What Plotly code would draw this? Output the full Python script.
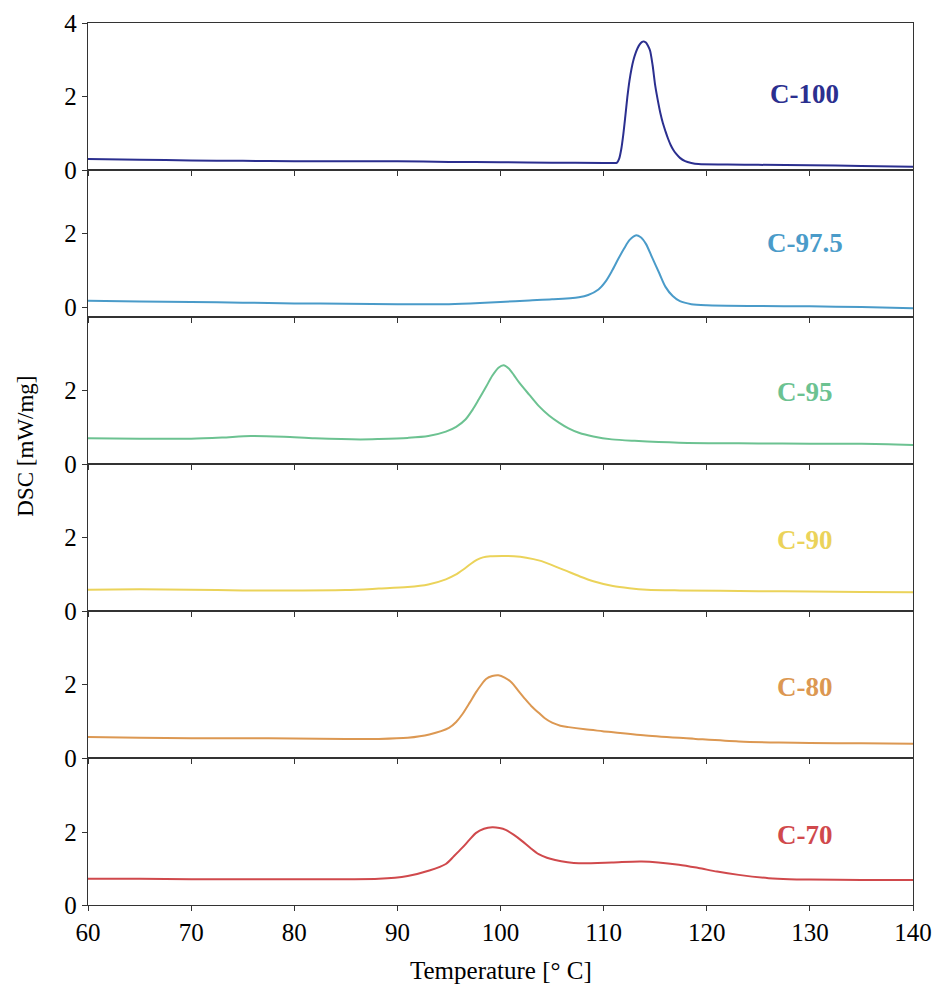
import plotly.graph_objects as go
from plotly.subplots import make_subplots

# DSC curves for each sample (temperature in °C, heat flow in mW/mg)
t_c100 = [60, 65, 70, 75, 80, 85, 90, 95, 100, 105, 110, 111.0, 111.3, 111.5, 111.7, 111.9,
          112.1, 112.3, 112.5, 112.7, 112.9, 113.1, 113.3, 113.5, 113.7, 113.9, 114.1, 114.3,
          114.5, 114.75, 115.0, 115.25, 115.5, 115.75, 116.0, 116.25, 116.5, 116.75, 117.0,
          117.4, 117.9, 118.5, 119.2, 122, 125, 130, 135, 140]
dsc_c100 = [0.30, 0.28, 0.26, 0.25, 0.24, 0.24, 0.24, 0.22, 0.21, 0.20, 0.19, 0.19, 0.20, 0.30,
            0.55, 0.95, 1.45, 1.98, 2.42, 2.75, 3.00, 3.18, 3.32, 3.42, 3.48, 3.50, 3.47, 3.38,
            3.25, 2.85, 2.30, 1.90, 1.55, 1.27, 1.05, 0.85, 0.68, 0.55, 0.45, 0.33, 0.24, 0.19,
            0.16, 0.15, 0.14, 0.13, 0.11, 0.09]

t_c975 = [60, 65, 70, 75, 80, 85, 90, 95, 98, 100, 102.8, 105, 107.6, 108.5, 109.5, 110.2,
          110.8, 111.4, 112.0, 112.5, 113.1, 113.6, 114.1, 114.7, 115.4, 116.0, 116.7, 117.4,
          118.5, 120, 125, 130, 135, 140]
dsc_c975 = [0.17, 0.15, 0.14, 0.12, 0.10, 0.09, 0.08, 0.08, 0.11, 0.14, 0.18, 0.21, 0.27, 0.33,
            0.48, 0.70, 0.98, 1.30, 1.60, 1.82, 1.95, 1.90, 1.72, 1.35, 0.92, 0.55, 0.30, 0.16,
            0.08, 0.05, 0.03, 0.02, 0.0, -0.03]

t_c95 = [60, 65, 70, 73, 75.8, 79, 82, 86.4, 88.2, 91, 93, 94.7, 95.7, 96.6, 97.3, 97.9, 98.6,
         99.2, 99.8, 100.3, 100.8, 101.3, 101.8, 102.8, 103.7, 104.7, 105.7, 106.6, 107.6, 109,
         110.8, 113, 117.3, 125, 130, 135, 140]
dsc_c95 = [0.70, 0.69, 0.69, 0.72, 0.76, 0.74, 0.70, 0.67, 0.68, 0.71, 0.76, 0.88, 1.01, 1.21,
           1.48, 1.76, 2.10, 2.40, 2.62, 2.69, 2.60, 2.42, 2.22, 1.88, 1.58, 1.32, 1.12, 0.97,
           0.85, 0.75, 0.67, 0.63, 0.58, 0.56, 0.55, 0.55, 0.52]

t_c90 = [60, 65, 70, 75, 80, 85, 88.2, 91, 93, 94.7, 95.6, 96.4, 97.1, 97.7, 98.3, 99, 100.2,
         101.3, 102.5, 103.8, 105, 106.4, 107.7, 109, 110.9, 112.5, 114.2, 117.4, 125, 130, 135,
         140]
dsc_c90 = [0.58, 0.59, 0.58, 0.56, 0.56, 0.57, 0.61, 0.65, 0.72, 0.86, 0.98, 1.13, 1.28, 1.39,
           1.46, 1.49, 1.50, 1.49, 1.45, 1.37, 1.25, 1.09, 0.94, 0.81, 0.68, 0.62, 0.58, 0.56,
           0.54, 0.53, 0.52, 0.51]

t_c80 = [60, 65, 70, 75, 80, 85, 88.2, 91, 93.1, 95.0, 95.7, 96.3, 97.0, 97.6, 98.1, 98.6, 99.2,
         99.8, 100.4, 101.1, 101.7, 102.4, 103.0, 103.7, 104.3, 105.0, 105.8, 106.6, 108.2,
         109.9, 114.1, 118.9, 123.1, 127, 130, 135, 140]
dsc_c80 = [0.57, 0.55, 0.54, 0.54, 0.53, 0.52, 0.52, 0.55, 0.64, 0.82, 0.98, 1.19, 1.50, 1.78,
           1.98, 2.15, 2.23, 2.25, 2.19, 2.05, 1.84, 1.60, 1.41, 1.23, 1.08, 0.96, 0.88, 0.84,
           0.78, 0.73, 0.61, 0.52, 0.45, 0.42, 0.41, 0.40, 0.39]

t_c70 = [60, 65, 70, 75, 80, 85, 88.2, 91, 93.1, 94.7, 95.5, 96.3, 97.0, 97.6, 98.4, 99.2, 99.9,
         100.5, 101.3, 102.1, 102.9, 103.7, 104.5, 105.3, 106.5, 107.6, 110.8, 113.7, 117.3,
         119.2, 121, 123.1, 126, 128, 130, 135, 140]
dsc_c70 = [0.72, 0.72, 0.71, 0.71, 0.71, 0.71, 0.72, 0.80, 0.95, 1.13, 1.35, 1.58, 1.80, 1.98,
           2.10, 2.14, 2.12, 2.07, 1.93, 1.76, 1.57, 1.40, 1.30, 1.24, 1.18, 1.15, 1.17, 1.20,
           1.11, 1.02, 0.92, 0.83, 0.74, 0.71, 0.70, 0.69, 0.69]

sample_names = ["C-100", "C-97.5", "C-95", "C-90", "C-80", "C-70"]
temps = [t_c100, t_c975, t_c95, t_c90, t_c80, t_c70]
values = [dsc_c100, dsc_c975, dsc_c95, dsc_c90, dsc_c80, dsc_c70]
colors = ["#2b2f8f", "#4a9bc9", "#6cc291", "#ebd35a", "#dc9852", "#d0494c"]
y_ranges = [[0, 4], [-0.27, 3.73], [0, 4], [0, 4], [0, 4], [0, 4.05]]
label_y = [2.08, 1.75, 1.95, 1.92, 1.92, 1.92]
x_ticks = list(range(60, 141, 10))

SERIF = "Liberation Serif"
axis_col = "#333333"
tick_font = dict(family=SERIF, size=25, color="black")

fig = make_subplots(rows=6, cols=1, shared_xaxes=True, vertical_spacing=0)

for i, (name, t, v, c) in enumerate(zip(sample_names, temps, values, colors)):
    row = i + 1
    fig.add_trace(
        go.Scatter(x=t, y=v, mode="lines", name=name,
                   line=dict(color=c, width=2, shape="spline", smoothing=0.8),
                   showlegend=False),
        row=row, col=1,
    )
    fig.update_yaxes(
        range=y_ranges[i],
        tickvals=[0, 2, 4] if i == 0 else [0, 2],
        ticks="outside", ticklen=5, tickcolor=axis_col, tickfont=tick_font,
        showline=True, linecolor=axis_col, linewidth=1.3, mirror=True,
        showgrid=False, zeroline=False, automargin=False,
        row=row, col=1,
    )
    fig.update_xaxes(
        range=[60, 140], tickvals=x_ticks,
        ticks="outside", ticklen=5, tickcolor=axis_col, tickfont=tick_font,
        showline=True, linecolor=axis_col, linewidth=1.3, mirror=True,
        showgrid=False, zeroline=False, automargin=False,
        row=row, col=1,
    )
    xref = "x" if row == 1 else f"x{row}"
    yref = "y" if row == 1 else f"y{row}"
    fig.add_annotation(
        x=129.5, y=label_y[i], xref=xref, yref=yref,
        xanchor="center", yanchor="middle",
        text=f"<b>{name}</b>", showarrow=False,
        font=dict(family=SERIF, size=27, color=c),
    )

fig.update_xaxes(showticklabels=True, row=6, col=1)

fig.add_annotation(
    x=0.5, y=-0.074, xref="paper", yref="paper",
    xanchor="center", yanchor="middle",
    text="Temperature [° C]", showarrow=False,
    font=dict(family=SERIF, size=25, color="black"),
)
fig.add_annotation(
    x=-0.076, y=0.52, xref="paper", yref="paper",
    xanchor="center", yanchor="middle",
    text="DSC [mW/mg]", textangle=-90, showarrow=False,
    font=dict(family=SERIF, size=23, color="black"),
)

fig.update_layout(
    width=935, height=990,
    margin=dict(l=88, r=22, t=23, b=85),
    paper_bgcolor="white", plot_bgcolor="white",
    font=dict(family=SERIF, size=24, color="black"),
)

fig.write_html("out.html")
